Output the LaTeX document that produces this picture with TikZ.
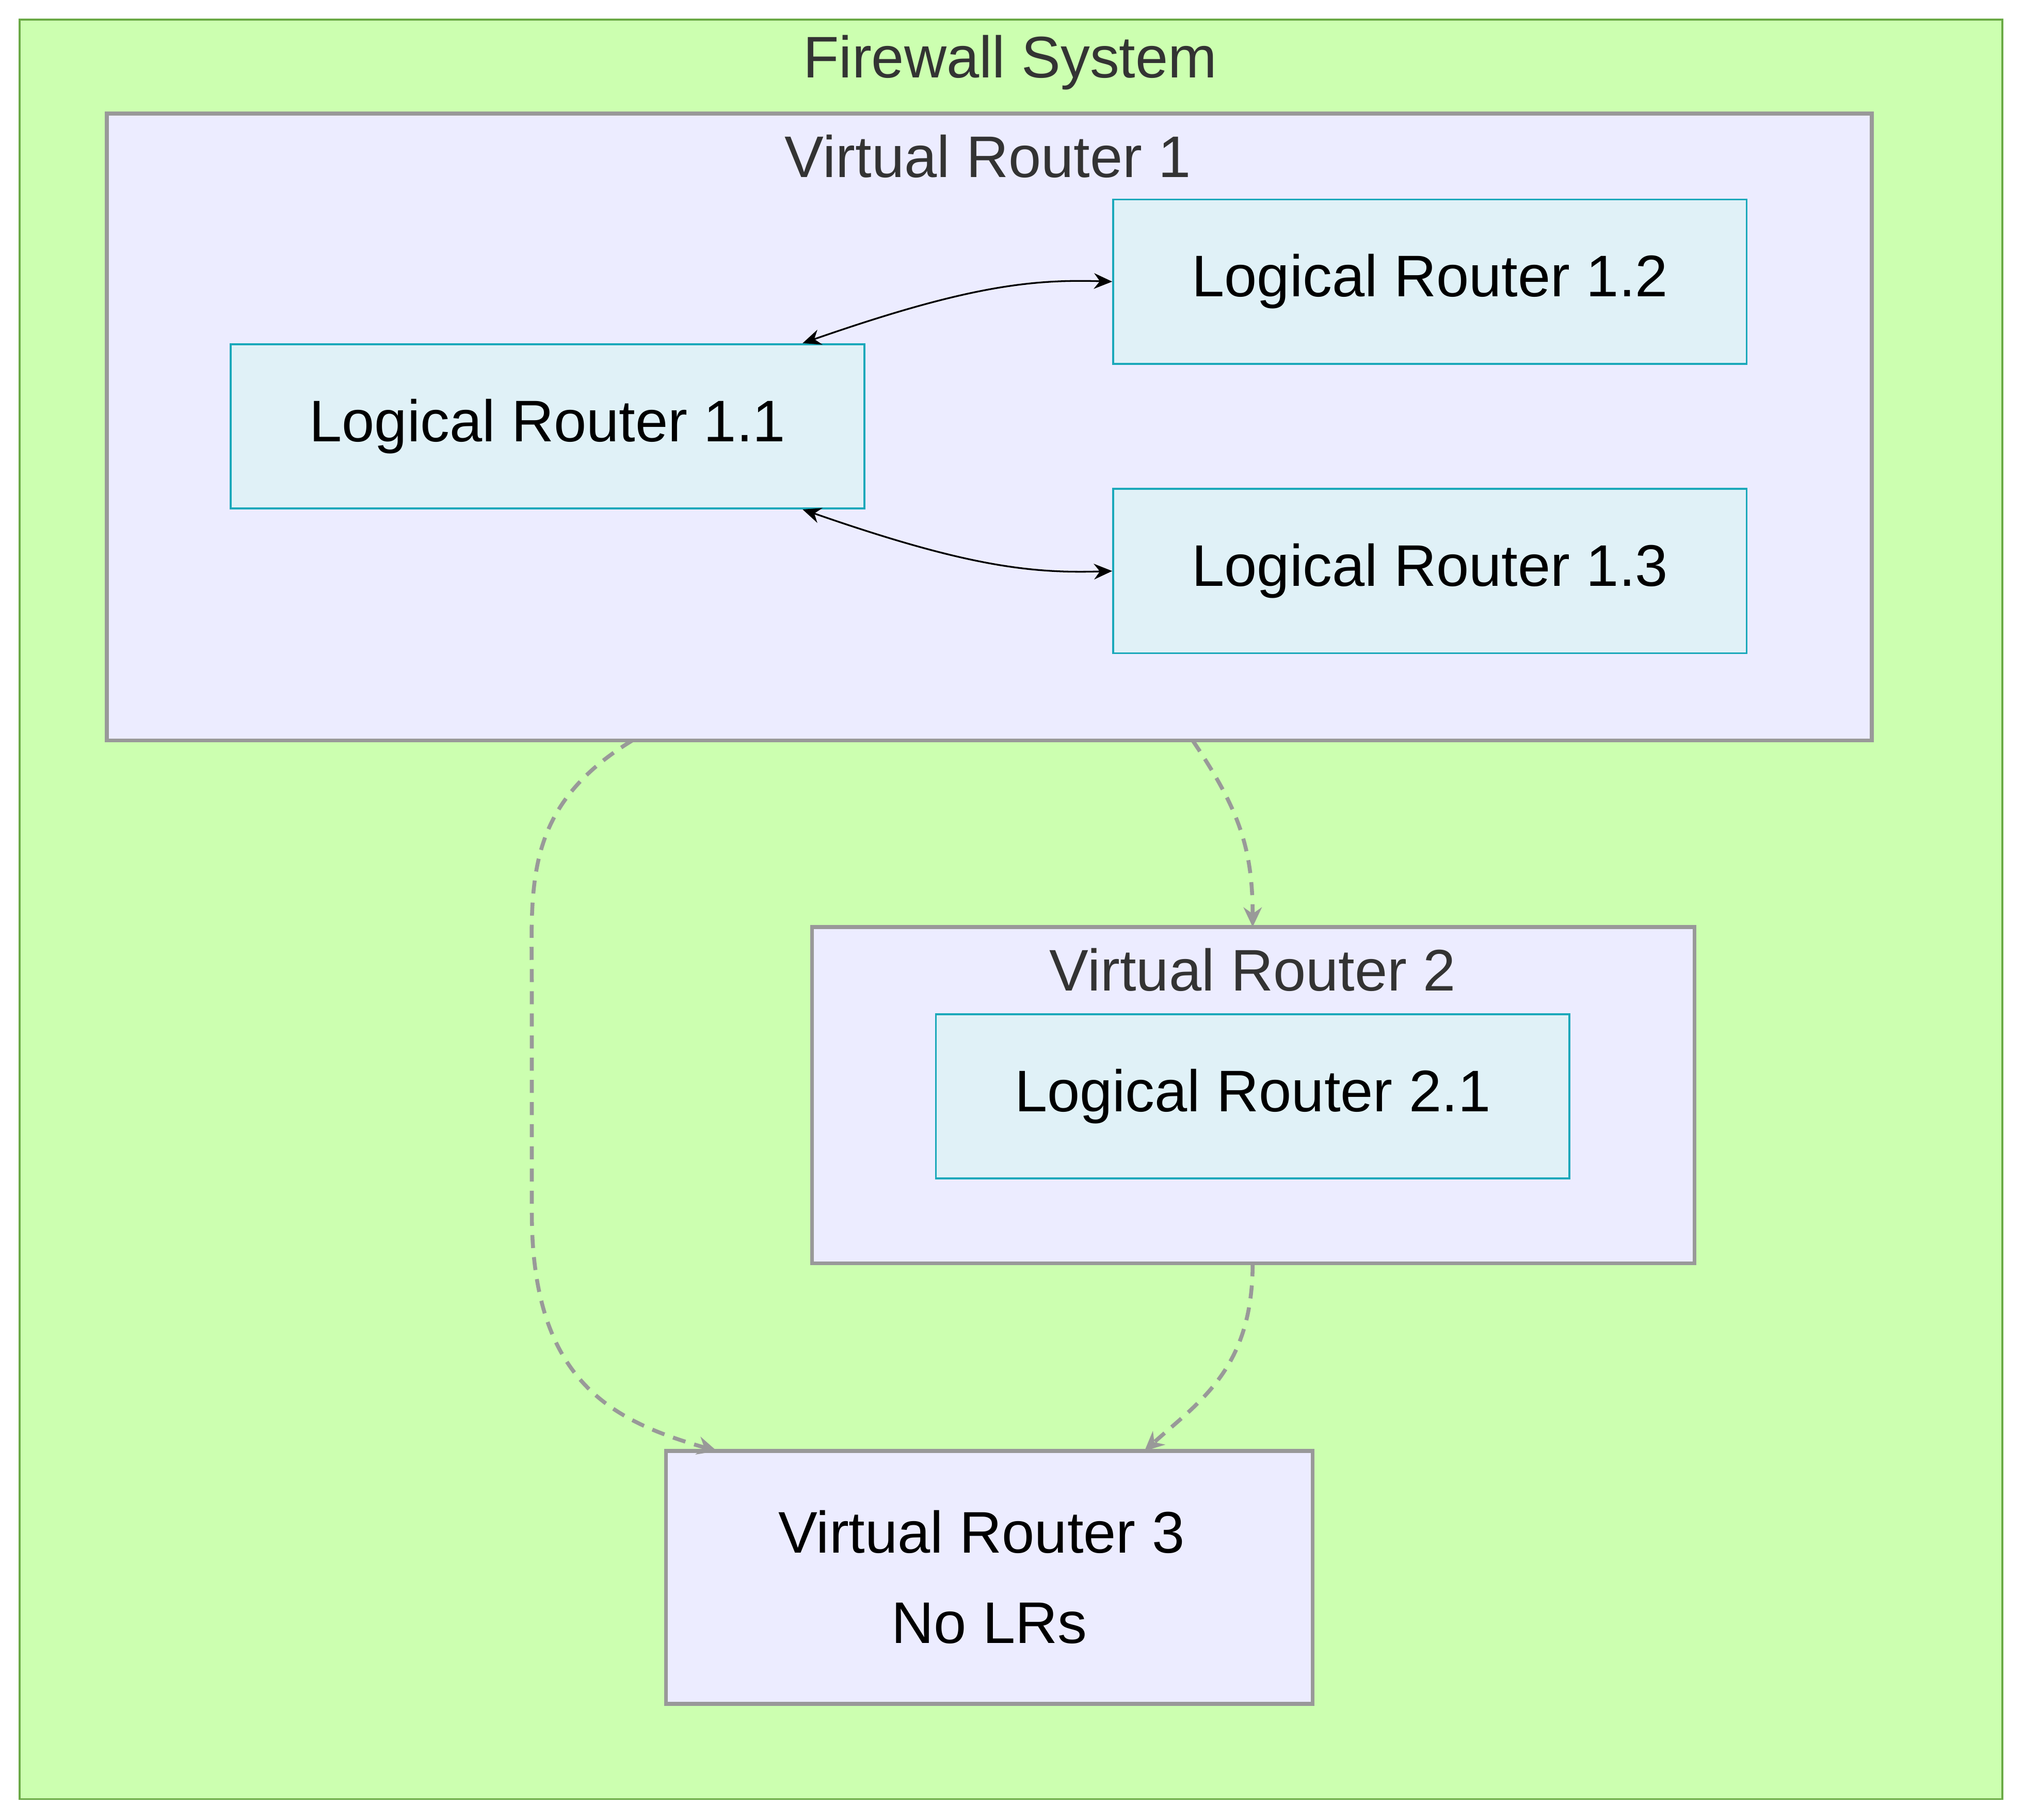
\documentclass[tikz,border=0pt]{standalone}
\usepackage{fontspec}
\setmainfont{Liberation Sans}
\usetikzlibrary{arrows.meta}
\definecolor{fwfill}{HTML}{CCFFB0}
\definecolor{fwline}{HTML}{6AAA45}
\definecolor{vrfill}{HTML}{ECECFF}
\definecolor{vrline}{HTML}{999999}
\definecolor{lrfill}{HTML}{E0F1F7}
\definecolor{lrline}{HTML}{1AA8BA}
\definecolor{txt}{HTML}{333333}
\tikzset{
  big/.style={font=\fontsize{45}{52}\selectfont},
  vr/.style={draw=vrline, fill=vrfill, line width=3pt},
  lr/.style={draw=lrline, fill=lrfill, line width=1.5pt, minimum width=486pt,
    minimum height=126pt, big},
  link/.style={line width=1.3pt, {Stealth[length=14pt,width=12pt]}-{Stealth[length=14pt,width=12pt]}},
  flow/.style={draw=vrline, line width=3pt, dash pattern=on 10pt off 7pt,
    -{Stealth[length=15pt,width=14pt]}}
}
\begin{document}
\begin{tikzpicture}[x=1pt,y=-1pt]
      \useasboundingbox (0,0) rectangle (1552,1396);
      % outer system
      \draw[draw=fwline, fill=fwfill, line width=1.5pt] (15,15) rectangle (1536,1380);
      \node[text=txt, big] (fwtitle) at (775,48) {Firewall System};
      % virtual routers
      \draw[vr] (82,87) rectangle (1436,568);
      \node[text=txt, big] (vr1title) at (758,120) {Virtual Router 1};
      \draw[vr] (623,711) rectangle (1300,969);
      \node[text=txt, big] (vr2title) at (961,744) {Virtual Router 2};
      \node[vr, minimum width=496pt, minimum height=194pt] (vr3) at (759,1210) {};
      \node[big] (vr3a) at (753,1175) {Virtual Router 3};
      \node[big] (vr3b) at (759,1245) {No LRs};
      % logical routers
      \node[lr] (lr11) at (420,327) {Logical Router 1.1};
      \node[lr] (lr12) at (1097,216) {Logical Router 1.2};
      \node[lr] (lr13) at (1097,438) {Logical Router 1.3};
      \node[lr] (lr21) at (961,841) {Logical Router 2.1};
      % coordinates on the cluster borders
      \coordinate (vr1a) at (485,568);
      \coordinate (vr1b) at (915,568);
      \coordinate (vr2top) at (961,711);
      \coordinate (vr2bot) at (961,969);
      % links
      \draw[link] (lr11.north east) ++(-48,0) .. controls (740,220) and (790,214) .. (lr12.west);
      \draw[link] (lr11.south east) ++(-48,0) .. controls (740,434) and (790,440) .. (lr13.west);
      \draw[flow] (vr1a) .. controls (400,620) and (408,680) .. (408,760)
        -- (408,930) .. controls (408,1060) and (470,1090) .. (550,1113);
      \draw[flow] (vr1b) .. controls (950,620) and (961,650) .. (vr2top);
      \draw[flow] (vr2bot) .. controls (961,1050) and (920,1075) .. (878,1113);
\end{tikzpicture}
\end{document}
